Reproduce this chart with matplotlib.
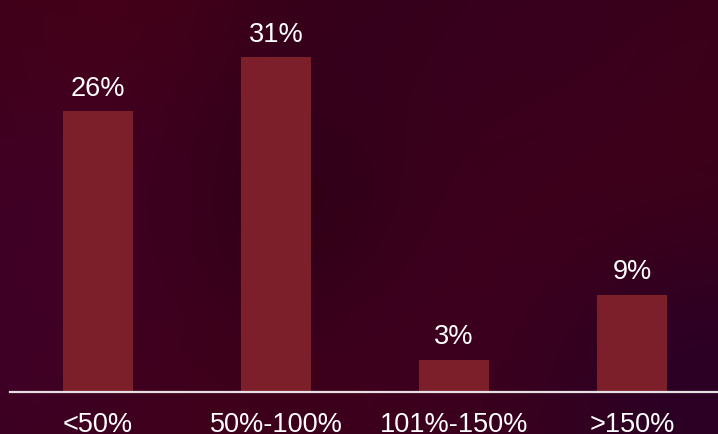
"""
Распределение по диапазонам: столбчатая диаграмма на тёмном фоне.
"""
import numpy as np
import matplotlib
matplotlib.use("Agg")
import matplotlib.pyplot as plt

categories = ["<50%", "50%-100%", "101%-150%", ">150%"]
shares = [26, 31, 3, 9]
share_labels = ["26%", "31%", "3%", "9%"]

W, H = 718, 434
BAR_COLOR = "#7d1f2a"
TEXT_COLOR = "white"

plt.rcParams["font.family"] = ["Liberation Sans", "DejaVu Sans"]


def make_background(w, h):
    """Мягкий пятнистый фон из нескольких цветовых пятен."""
    yy, xx = np.mgrid[0:h, 0:w]
    img = np.zeros((h, w, 3))
    img[:] = np.array([52, 0, 26]) / 255.0
    # (x, y, радиус, цвет)
    blobs = [
        (150, 20, 160, (78, 0, 18)),
        (420, 80, 150, (38, 0, 22)),
        (60, 300, 150, (68, 0, 50)),
        (380, 260, 160, (68, 0, 42)),
        (640, 150, 160, (70, 0, 20)),
        (700, 380, 110, (38, 0, 42)),
        (230, 400, 140, (64, 0, 24)),
        (560, 30, 120, (56, 0, 32)),
        (300, 200, 90, (44, 0, 20)),
    ]
    for bx, by, r, col in blobs:
        wgt = np.exp(-((xx - bx) ** 2 + (yy - by) ** 2) / (2 * r ** 2))
        c = np.array(col) / 255.0
        img = img * (1 - 0.7 * wgt[..., None]) + c * 0.7 * wgt[..., None]
    return np.clip(img, 0, 1)


fig = plt.figure(figsize=(W / 100, H / 100), dpi=100)

bg = fig.add_axes([0, 0, 1, 1])
bg.imshow(make_background(W, H), aspect="auto", interpolation="bilinear")
bg.axis("off")

# ось: нижняя граница на y=392 px, верх у края рисунка
base_px = 392
ax = fig.add_axes([10 / W, 1 - base_px / H, 1 - 10 / W, base_px / H])
ax.patch.set_alpha(0)

x = np.arange(len(categories))
ax.bar(x, shares, width=0.393, color=BAR_COLOR)

for xi, val, lab in zip(x, shares, share_labels):
    ax.annotate(lab, (xi, val), xytext=(0, 7), textcoords="offset points",
                ha="center", va="bottom", color=TEXT_COLOR, fontsize=19.5)

ax.set_xlim(-0.494, 3.483)
ax.set_ylim(0, 36.3)
ax.set_xticks(x)
ax.set_xticklabels(categories, color=TEXT_COLOR, fontsize=19.5)
ax.tick_params(axis="x", length=0, pad=14.5)
ax.set_yticks([])
for side in ["top", "left", "right"]:
    ax.spines[side].set_visible(False)
ax.spines["bottom"].set_color("#e6e0e2")
ax.spines["bottom"].set_linewidth(1.6)

fig.savefig("out.png", dpi=100)
